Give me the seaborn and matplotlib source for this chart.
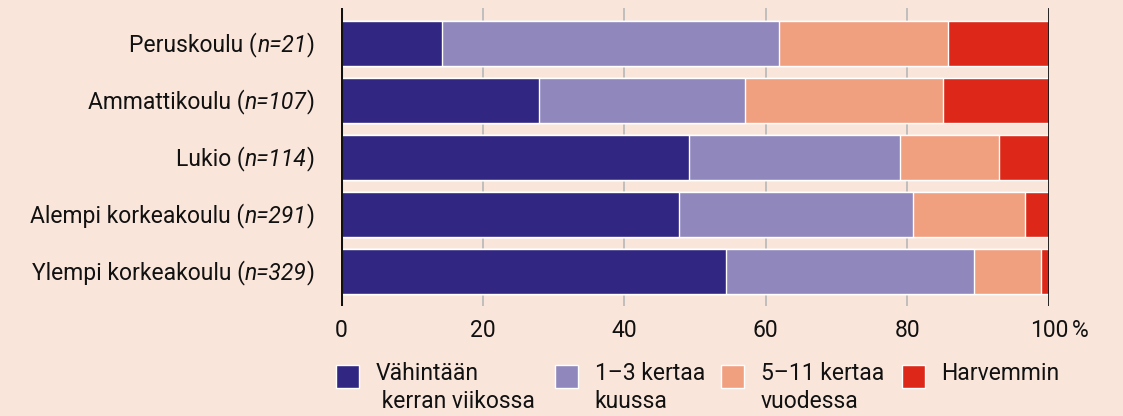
import matplotlib
matplotlib.use("Agg")
import matplotlib.pyplot as plt
import seaborn as sns
import numpy as np
import pandas as pd
from matplotlib.patches import Rectangle
from matplotlib.offsetbox import DrawingArea, TextArea, HPacker, AnnotationBbox

categories = ["Peruskoulu", "Ammattikoulu", "Lukio", "Alempi korkeakoulu", "Ylempi korkeakoulu"]
n_values = [21, 107, 114, 291, 329]
series_names = ["Vähintään\n kerran viikossa", "1–3 kertaa\nkuussa", "5–11 kertaa\nvuodessa", "Harvemmin"]
weekly = [14.3, 28.0, 49.1, 47.8, 54.4]
monthly = [47.6, 29.0, 29.8, 33.0, 35.0]
yearly = [23.8, 28.0, 14.0, 15.8, 9.4]
rarely = [14.3, 15.0, 7.1, 3.4, 1.2]
x_ticks = [0, 20, 40, 60, 80, 100]
x_tick_labels = ["0", "20", "40", "60", "80", "100"]

colors = ["#312682", "#9087BD", "#F09F7F", "#DD2718"]
bg = "#FAE5DA"
txt = "#111111"
FS = 16.5

sns.set_theme(style="white")
plt.rcParams["font.family"] = ["Roboto", "DejaVu Sans"]

fig = plt.figure(figsize=(11.23, 4.16), dpi=100, facecolor=bg)
ax = fig.add_axes([341 / 1123, 1 - 306 / 416, (1049 - 341) / 1123, (306 - 8) / 416])
ax.set_facecolor(bg)

df = pd.DataFrame({"cat": categories, "s0": weekly, "s1": monthly, "s2": yearly, "s3": rarely})
vals = df[["s0", "s1", "s2", "s3"]].to_numpy()
cum = np.cumsum(vals, axis=1)

for k in range(3, -1, -1):
    sns.barplot(x=cum[:, k], y=df["cat"], color=colors[k], orient="h", width=0.79,
                edgecolor="white", linewidth=1, saturation=1, ax=ax, zorder=2)

for xv in [20, 40, 60, 80]:
    ax.axvline(xv, color="#BBBBBB", lw=1.3, zorder=0)
ax.axvline(0, color=txt, lw=2.2, zorder=5)
ax.axvline(100, color=txt, lw=2.0, zorder=5)

ax.set_xlim(0, 100)
ax.set_ylim(4.61, -0.62)
for s in ax.spines.values():
    s.set_visible(False)
ax.set_xlabel("")
ax.set_ylabel("")
ax.set_xticks(x_ticks)
ax.set_xticklabels(x_tick_labels)
ax.set_yticks(range(len(categories)))
ax.set_yticklabels([])
ax.tick_params(axis="x", length=0, pad=9.5, labelsize=FS, labelcolor=txt)
ax.tick_params(axis="y", length=0)

ax.annotate("%", xy=(100, 0), xycoords=("data", "axes fraction"), xytext=(16.5, -9.5),
            textcoords="offset points", ha="left", va="top", fontsize=FS, color=txt)

# category labels with italic n
for i, (c, n) in enumerate(zip(categories, n_values)):
    parts = [TextArea(c + " (", textprops=dict(fontsize=FS, color=txt)),
             TextArea(f"n={n}", textprops=dict(fontsize=FS, color=txt, fontstyle="italic")),
             TextArea(")", textprops=dict(fontsize=FS, color=txt))]
    box = HPacker(children=parts, align="baseline", pad=0, sep=0)
    ab = AnnotationBbox(box, (0, i), xycoords="data", xybox=(-19, -1), boxcoords="offset points",
                        box_alignment=(1, 0.5), frameon=False, annotation_clip=False)
    ax.add_artist(ab)

# legend entries: square aligned with first text line
legend_x = [336, 555, 721, 902]
sq = 16.5
for lx, name, col in zip(legend_x, series_names, colors):
    da = DrawingArea(sq, sq + 2, 0, 0)
    da.add_artist(Rectangle((0, 0), sq, sq, facecolor=col, edgecolor="white", linewidth=1))
    ta = TextArea(name, textprops=dict(fontsize=FS, color=txt, linespacing=1.27))
    box = HPacker(children=[da, ta], align="top", pad=0, sep=12)
    ab = AnnotationBbox(box, (lx / 1123, 1 - 362 / 416), xycoords="figure fraction",
                        box_alignment=(0, 1), frameon=False, annotation_clip=False)
    fig.add_artist(ab)

fig.savefig("out.png", dpi=100, facecolor=bg)
